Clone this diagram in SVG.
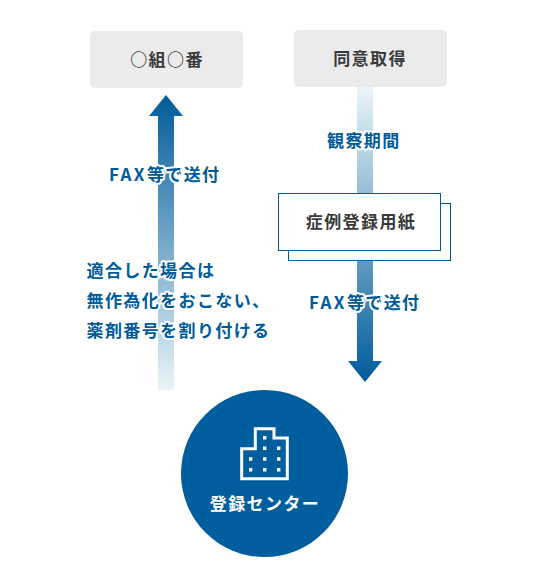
<svg xmlns="http://www.w3.org/2000/svg" width="560" height="584" viewBox="0 0 560 584">
<style>
text{font-family:"Noto Sans CJK JP","Noto Sans",sans-serif;font-weight:700;font-size:17px;letter-spacing:1.400px}
.b{fill:#005b9a;stroke:#fff;stroke-width:4px;stroke-linejoin:round;paint-order:stroke}
.f{letter-spacing:2.400px}
.d{fill:#3a3a3a;text-anchor:middle}
.box{fill:#ecebec}
.doc{fill:#fff;stroke:#005b9a;stroke-width:1}
</style>
<defs>
<linearGradient id="up" gradientUnits="userSpaceOnUse" x1="0" y1="95" x2="0" y2="390"><stop offset="0" stop-color="#005b9a"/><stop offset="1" stop-color="#eaf5f8"/></linearGradient>
<linearGradient id="down" gradientUnits="userSpaceOnUse" x1="0" y1="87" x2="0" y2="382"><stop offset="0" stop-color="#eaf5f8"/><stop offset="1" stop-color="#005b9a"/></linearGradient>
</defs>
<g id="connectors">
<path id="arrow-up" fill="url(#up)" d="M166 95L183 116H174V390H158V116H149Z"/>
<path id="arrow-down" fill="url(#down)" d="M357 87H373V361H382L365 382L348 361H357Z"/>
</g>
<g id="node-kumi"><rect class="box" x="90" y="31" width="153" height="57" rx="5"/><text class="d" x="167" y="66">○組○番</text></g>
<g id="node-consent"><rect class="box" x="294" y="30" width="153" height="57" rx="5"/><text class="d" x="370" y="65">同意取得</text></g>
<g id="node-form"><rect class="doc" x="288.5" y="203.5" width="162" height="57"/><rect class="doc" x="278.5" y="193.5" width="162" height="57"/><text class="d" x="361" y="228">症例登録用紙</text></g>
<g id="node-center"><circle cx="264.5" cy="473.5" r="83.5" fill="#005e9e"/>
<path d="M241.700 478.700V448.700H255.300V428.700H274V438H287.300V478.700Z" fill="none" stroke="#fff" stroke-width="3"/>
<path fill="#fff" d="M263 436h3.400v3.400h-3.400zM263 446.600h3.400v3.400h-3.400zM277 446.600h3.400v3.400h-3.400zM249 457.300h3.400v3.400h-3.400zM263 457.300h3.400v3.400h-3.400zM277 457.300h3.400v3.400h-3.400zM249 468h3.400v3.400h-3.400zM263 468h3.400v3.400h-3.400zM277 468h3.400v3.400h-3.400z"/>
<text x="265" y="510" fill="#fff" text-anchor="middle">登録センター</text></g>
<g id="labels">
<text class="b" x="109" y="181"><tspan class="f">FAX</tspan>等で送付</text>
<text class="b" x="327" y="147">観察期間</text>
<text class="b" x="309" y="309"><tspan class="f">FAX</tspan>等で送付</text>
<text class="b" x="86.500" y="277">適合した場合は</text>
<text class="b" x="86.500" y="307">無作為化をおこない、</text>
<text class="b" x="86.500" y="337">薬剤番号を割り付ける</text>
</g>
</svg>
